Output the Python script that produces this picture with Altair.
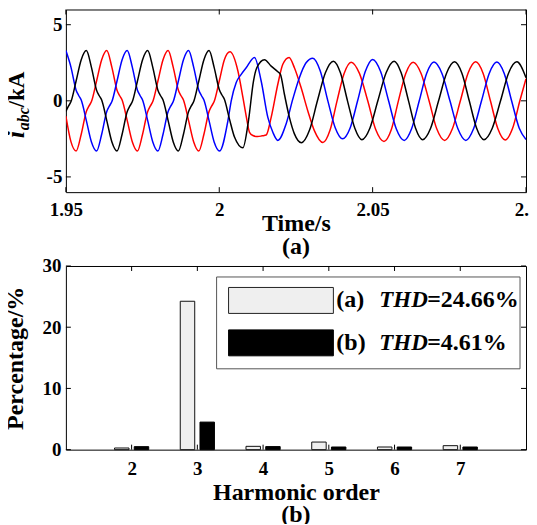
import altair as alt
import pandas as pd

FONT = "Liberation Serif"

# ---------------- (a) three-phase currents, kA ----------------
blue_t = [1.95000, 1.95167, 1.95333, 1.95417, 1.95500, 1.95667, 1.95833, 1.96000, 1.96167, 1.96333, 1.96417, 1.96500, 1.96667, 1.96833,
          1.97000, 1.97167, 1.97333, 1.97417, 1.97500, 1.97667, 1.97833, 1.98000, 1.98167, 1.98333, 1.98417, 1.98500, 1.98667, 1.98833,
          1.99000, 1.99167, 1.99333, 1.99417, 1.99500, 1.99667, 1.99833, 2.00010,
          2.00283, 2.00390, 2.00553, 2.00716, 2.00878, 2.01148, 2.01366, 2.01584, 2.01747, 2.01909, 2.02179, 2.02397, 2.02612, 2.02830,
          2.0305, 2.0329, 2.0354, 2.0378, 2.0402, 2.0427, 2.0451, 2.0476, 2.0500, 2.0526, 2.0552, 2.0577, 2.0603, 2.0627, 2.0652, 2.0676,
          2.0700, 2.0726, 2.0752, 2.0778, 2.0804, 2.0829, 2.0855, 2.0880, 2.0905, 2.0929, 2.0953, 2.0978, 2.1000]
blue_v = [3.30, 2.20, 0.70, 0.35, 0.05, -1.30, -2.70, -3.30, -2.20, -0.70, -0.35, -0.05, 1.30, 2.70,
          3.30, 2.20, 0.70, 0.35, 0.05, -1.30, -2.70, -3.30, -2.20, -0.70, -0.35, -0.05, 1.30, 2.70,
          3.30, 2.20, 0.70, 0.35, 0.05, -1.30, -2.70, -3.30,
          -1.30, 0.00, 1.20, 1.74, 2.17, 2.85, 1.30, -1.09, -2.07, -2.60, -1.52, 0.11, 1.52, 2.50,
          2.80, 1.98, 0.00, -1.77, -2.50, -1.77, 0.00, 1.92, 2.72, 1.92, 0.00, -1.84, -2.60, -1.84, 0.00, 1.80,
          2.55, 1.80, 0.00, -1.84, -2.60, -1.84, 0.00, 1.80, 2.55, 1.80, 0.00, -1.80, -2.54]

black_t = [1.95000, 1.95083, 1.95167, 1.95333, 1.95500,
           1.95667, 1.95833, 1.96000, 1.96083, 1.96167, 1.96333, 1.96500, 1.96667, 1.96833, 1.97000, 1.97083, 1.97167, 1.97333, 1.97500,
           1.97667, 1.97833, 1.98000, 1.98083, 1.98167, 1.98333, 1.98500, 1.98667, 1.98833, 1.99000, 1.99083, 1.99167, 1.99333, 1.99500,
           1.99667,
           1.99833, 2.00000, 2.00083, 2.00167, 2.00333, 2.00500, 2.00771, 2.00953, 2.01116, 2.01223, 2.01474, 2.01692, 2.01909, 2.01994,
           2.02124, 2.02287, 2.02450, 2.02680,
           2.0294, 2.0320, 2.0346, 2.0372, 2.0395, 2.0418, 2.0442, 2.0465, 2.0491, 2.0517, 2.0544, 2.0570, 2.0593, 2.0617, 2.0640, 2.0663,
           2.0689, 2.0715, 2.0741, 2.0767, 2.0791, 2.0815, 2.0839, 2.0863, 2.0890, 2.0917, 2.0943, 2.0970, 2.1000]
black_v = [-0.70, -0.35, -0.05, 1.30, 2.70,
           3.30, 2.20, 0.70, 0.35, 0.05, -1.30, -2.70, -3.30, -2.20, -0.70, -0.35, -0.05, 1.30, 2.70,
           3.30, 2.20, 0.70, 0.35, 0.05, -1.30, -2.70, -3.30, -2.20, -0.70, -0.35, -0.05, 1.30, 2.70,
           3.30,
           2.20, 0.75, 0.40, 0.10, -1.20, -2.40, -3.09, -1.30, 1.30, 2.17, 2.70, 2.28, 1.91, 1.74,
           0.43, -1.09, -2.17, -2.75,
           -1.94, 0.00, 1.84, 2.60, 1.84, 0.00, -1.80, -2.55, -1.80, 0.00, 1.84, 2.60, 1.84, 0.00, -1.80, -2.55,
           -1.80, 0.00, 1.81, 2.56, 1.81, 0.00, -1.80, -2.55, -1.80, 0.00, 1.81, 2.56, 1.52]

red_t = [1.95000, 1.95167, 1.95333, 1.95500, 1.95667, 1.95750, 1.95833, 1.96000, 1.96167,
         1.96333, 1.96500, 1.96667, 1.96750, 1.96833, 1.97000, 1.97167, 1.97333, 1.97500, 1.97667, 1.97750, 1.97833, 1.98000, 1.98167,
         1.98333, 1.98500, 1.98667, 1.98750, 1.98833, 1.99000, 1.99167, 1.99333, 1.99500, 1.99667, 1.99750, 1.99833, 2.00000, 2.00167,
         2.00350, 2.00608, 2.00771, 2.00878, 2.00986, 2.01096, 2.01250, 2.01400, 2.01529, 2.01692, 2.01909, 2.02072, 2.02277, 2.02450,
         2.02667, 2.02885, 2.03100, 2.03380,
         2.0361, 2.0384, 2.0407, 2.0430, 2.0457, 2.0484, 2.0510, 2.0537, 2.0561, 2.0584, 2.0608, 2.0632, 2.0658, 2.0684, 2.0709, 2.0735,
         2.0760, 2.0786, 2.0811, 2.0836, 2.0860, 2.0884, 2.0908, 2.0932, 2.0956, 2.0980, 2.1000]
red_v = [-1.00, -2.70, -3.30, -2.20, -0.70, -0.35, -0.05, 1.30, 2.70,
         3.30, 2.20, 0.70, 0.35, 0.05, -1.30, -2.70, -3.30, -2.20, -0.70, -0.35, -0.05, 1.30, 2.70,
         3.30, 2.20, 0.70, 0.35, 0.05, -1.30, -2.70, -3.30, -2.20, -0.70, -0.35, -0.05, 1.30, 2.70,
         3.22, 1.96, 0.22, -1.00, -2.07, -2.28, -2.35, -2.30, -2.25, -1.09, 1.09, 2.40, 2.85, 2.17,
         0.87, -0.65, -1.96, -2.74,
         -1.94, 0.00, 1.80, 2.54, 1.80, 0.00, -1.89, -2.67, -1.89, 0.00, 1.80, 2.54, 1.80, 0.00, -1.84, -2.60,
         -1.84, 0.00, 1.81, 2.56, 1.81, 0.00, -1.82, -2.57, -1.82, 0.00, 1.45]

time_ticks = [1.95, 2.0, 2.05, 2.1]
current_ticks = [-5, 0, 5]

# ---------------- (b) harmonic spectrum, % ----------------
harmonic = [2, 3, 4, 5, 6, 7]
pct_a = [0.27, 24.24, 0.54, 1.24, 0.43, 0.65]
pct_b = [0.49, 4.50, 0.50, 0.43, 0.43, 0.43]
order_ticks = [2, 3, 4, 5, 6, 7]
pct_ticks = [0, 10, 20, 30]
legend_a = ["(a)", "THD", "=24.66%"]
legend_b = ["(b)", "THD", "=4.61%"]

# ---------------- layout constants ----------------
W = 461
H1 = 183
H2 = 184
TK = 5

frames = []
for name, ts, vs in [("red", red_t, red_v), ("blue", blue_t, blue_v), ("black", black_t, black_v)]:
    assert len(ts) == len(vs), name
    frames.append(pd.DataFrame({"t": ts, "i": vs, "phase": name}))
wave = pd.concat(frames, ignore_index=True)

one = pd.DataFrame({"k": [0]})


def txt(text, x, y, size, style="normal", angle=0, align="left", baseline="alphabetic"):
    return alt.Chart(one).mark_text(
        text=text, font=FONT, fontSize=size, fontWeight="bold", fontStyle=style,
        angle=angle, align=align, baseline=baseline, color="black"
    ).encode(x=alt.value(x), y=alt.value(y))


def box(x1, x2, y1, y2, fill, stroke, sw=1):
    return alt.Chart(one).mark_rect(fill=fill, stroke=stroke, strokeWidth=sw).encode(
        x=alt.value(x1), x2=alt.value(x2), y=alt.value(y1), y2=alt.value(y2))


# ----- top panel -----
xs1 = alt.Scale(domain=[1.95, 2.1], nice=False, zero=False)
ys1 = alt.Scale(domain=[-6, 6], nice=False, zero=False)
ax_x1 = alt.Axis(values=time_ticks, labelExpr="datum.value + ''", title="Time/s",
                 labelFlush=False, labelPadding=8, titlePadding=-8)
ax_y1 = alt.Axis(values=current_ticks, labelExpr="datum.value + ''", title=None, labelPadding=4)

lines = alt.Chart(wave).mark_line(interpolate="monotone", strokeWidth=1.5, clip=True).encode(
    x=alt.X("t:Q", scale=xs1, axis=ax_x1),
    y=alt.Y("i:Q", scale=ys1, axis=ax_y1),
    color=alt.Color("phase:N", scale=alt.Scale(domain=["red", "blue", "black"],
                                               range=["#ff0000", "#0000ff", "#000000"]), legend=None),
)

xt1 = pd.DataFrame({"t": time_ticks})
yt1 = pd.DataFrame({"i": current_ticks})
tx1b = alt.Chart(xt1).mark_rule(color="black").encode(
    x=alt.X("t:Q", scale=xs1, axis=ax_x1), y=alt.value(H1 - TK), y2=alt.value(H1))
tx1t = alt.Chart(xt1).mark_rule(color="black").encode(
    x=alt.X("t:Q", scale=xs1, axis=ax_x1), y=alt.value(0), y2=alt.value(TK))
ty1l = alt.Chart(yt1).mark_rule(color="black").encode(
    y=alt.Y("i:Q", scale=ys1, axis=ax_y1), x=alt.value(0), x2=alt.value(TK))
ty1r = alt.Chart(yt1).mark_rule(color="black").encode(
    y=alt.Y("i:Q", scale=ys1, axis=ax_y1), x=alt.value(W - TK), x2=alt.value(W))

ylab = [
    txt("i", -42, 129, 26, "italic", 270),
    txt("abc", -37, 121, 16, "italic", 270),
    txt("/kA", -42, 98, 23, "normal", 270),
]

top = alt.layer(lines, tx1b, tx1t, ty1l, ty1r, *ylab).properties(
    width=W, height=H1,
    title=alt.TitleParams("(a)", orient="bottom", offset=0),
)

# ----- bottom panel -----
xs2 = alt.Scale(domain=[1, 8], nice=False, zero=False)
ys2 = alt.Scale(domain=[0, 30], nice=False, zero=True)
ax_x2 = alt.Axis(values=order_ticks, title="Harmonic order", labelFlush=False,
                 labelPadding=10, titlePadding=2)
ax_y2 = alt.Axis(values=pct_ticks, title="Percentage/%", labelPadding=5, titlePadding=14)
bars = pd.DataFrame({"h": harmonic, "a": pct_a, "b": pct_b})

bar_a = alt.Chart(bars).transform_calculate(
    x1="datum.h - 0.26", x2="datum.h - 0.04"
).mark_rect(fill="#efefef", stroke="#111111", strokeWidth=1).encode(
    x=alt.X("x1:Q", scale=xs2, axis=ax_x2),
    x2="x2:Q",
    y=alt.Y("a:Q", scale=ys2, axis=ax_y2),
    y2=alt.datum(0),
)
bar_b = alt.Chart(bars).transform_calculate(
    x1="datum.h + 0.04", x2="datum.h + 0.26"
).mark_rect(fill="#000000", stroke="#000000", strokeWidth=1).encode(
    x=alt.X("x1:Q", scale=xs2, axis=ax_x2),
    x2="x2:Q",
    y=alt.Y("b:Q", scale=ys2, axis=ax_y2),
    y2=alt.datum(0),
)

xt2 = pd.DataFrame({"h": order_ticks})
yt2 = pd.DataFrame({"p": pct_ticks})
tx2b = alt.Chart(xt2).mark_rule(color="black").encode(
    x=alt.X("h:Q", scale=xs2, axis=ax_x2), y=alt.value(H2 - TK), y2=alt.value(H2))
tx2t = alt.Chart(xt2).mark_rule(color="black").encode(
    x=alt.X("h:Q", scale=xs2, axis=ax_x2), y=alt.value(0), y2=alt.value(TK))
ty2l = alt.Chart(yt2).mark_rule(color="black").encode(
    y=alt.Y("p:Q", scale=ys2, axis=ax_y2), x=alt.value(0), x2=alt.value(TK))
ty2r = alt.Chart(yt2).mark_rule(color="black").encode(
    y=alt.Y("p:Q", scale=ys2, axis=ax_y2), x=alt.value(W - TK), x2=alt.value(W))

legend_layers = [
    box(151, 455, 11, 103, "#ffffff", "#555555"),
    box(163, 268, 21.5, 47.5, "#efefef", "#222222"),
    box(163, 268, 64, 90, "#000000", "#000000"),
]
for row, yv in [(legend_a, 34.5), (legend_b, 77)]:
    legend_layers.append(txt(row[0], 271, yv, 24, "normal", 0, "left", "middle"))
    legend_layers.append(txt(row[1], 314, yv, 23, "italic", 0, "left", "middle"))
    legend_layers.append(txt(row[2], 362, yv, 24, "normal", 0, "left", "middle"))

bottom = alt.layer(bar_a, bar_b, tx2b, tx2t, ty2l, ty2r, *legend_layers).properties(
    width=W, height=H2,
    title=alt.TitleParams("(b)", orient="bottom", offset=-2),
)

chart = alt.vconcat(top, bottom, spacing=-4).properties(
    padding={"left": -6, "top": 0, "right": -10, "bottom": -4}
).configure_view(
    stroke="black", strokeWidth=1
).configure_axis(
    domain=False, ticks=False, tickSize=0, grid=False,
    labelFont=FONT, labelFontSize=19, labelFontWeight="bold", labelColor="black",
    titleFont=FONT, titleFontSize=24, titleFontWeight="bold", titleColor="black",
).configure_title(
    font=FONT, fontSize=24, fontWeight="bold", color="black", anchor="middle"
)

chart.save("out.html", embed_options={"renderer": "svg", "actions": False})
